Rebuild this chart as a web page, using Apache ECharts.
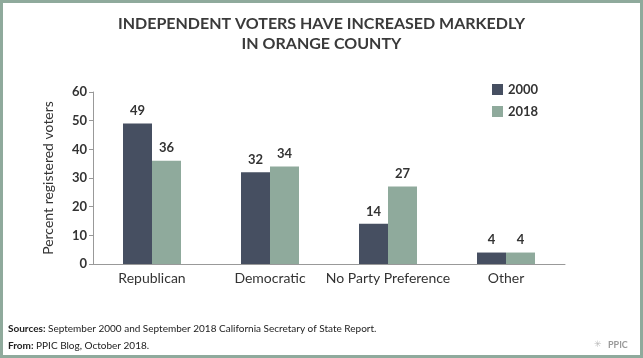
<!DOCTYPE html>
<html><head><meta charset="utf-8">
<script src="https://cdn.jsdelivr.net/npm/echarts@6/dist/echarts.min.js"></script>
<style>html,body{margin:0;padding:0;background:#fff}#c{width:643px;height:358px}</style>
</head><body><div id="c"></div>
<script>
const categories = ['Republican', 'Democratic', 'No Party Preference', 'Other'];
const values2000 = [49, 32, 14, 4];
const values2018 = [36, 34, 27, 4];
const yTicks = [0, 10, 20, 30, 40, 50, 60];

const chart = echarts.init(document.getElementById('c'));
const font = 'Lato, "Open Sans", sans-serif';
chart.setOption({
  animation: false,
  textStyle: { fontFamily: font },
  title: {
    text: 'INDEPENDENT VOTERS HAVE INCREASED MARKEDLY\nIN ORANGE COUNTY',
    left: 'center', top: 9,
    textStyle: { fontSize: 16, fontWeight: 'bold', color: '#3a3a3a', lineHeight: 20, fontFamily: font }
  },
  legend: {
    orient: 'vertical', left: 487, top: 78, itemWidth: 11, itemHeight: 11, itemGap: 9,
    icon: 'rect',
    textStyle: { fontSize: 13, fontWeight: 'bold', color: '#333', fontFamily: font },
    data: ['2000', '2018']
  },
  grid: { left: 93, right: 78, top: 92, bottom: 94 },
  xAxis: {
    type: 'category', data: categories,
    axisLine: { lineStyle: { color: '#999', width: 1 } },
    axisTick: { show: false },
    axisLabel: { color: '#333', fontSize: 14, margin: 7, interval: 0, fontFamily: font }
  },
  yAxis: {
    type: 'value', min: 0, max: 60, interval: 10,
    name: 'Percent registered voters', nameLocation: 'middle', nameGap: 38,
    nameTextStyle: { color: '#333', fontSize: 14, fontFamily: font },
    axisLine: { show: true, lineStyle: { color: '#999' } },
    axisTick: { show: true, length: 4, lineStyle: { color: '#999' } },
    splitLine: { show: false },
    axisLabel: { color: '#333', fontSize: 13, margin: 6, fontWeight: 'bold', fontFamily: font,
      formatter: v => yTicks.includes(v) ? String(v) : '' }
  },
  series: [
    { name: '2000', type: 'bar', data: values2000, barWidth: 29, barGap: '0%',
      itemStyle: { color: '#464f61' },
      label: { show: true, position: 'top', distance: 6, color: '#333', fontSize: 13, fontWeight: 'bold', fontFamily: font } },
    { name: '2018', type: 'bar', data: values2018, barWidth: 29,
      itemStyle: { color: '#8faa9c' },
      label: { show: true, position: 'top', distance: 6, color: '#333', fontSize: 13, fontWeight: 'bold', fontFamily: font } }
  ],
  graphic: [
    { type: 'rect', shape: { x: 1.5, y: 1.5, width: 640, height: 355 },
      style: { fill: 'none', stroke: '#8faa9c', lineWidth: 3 }, silent: true },
    { type: 'text', left: 8, top: 324,
      style: { text: '{b|Sources:} September 2000 and September 2018 California Secretary of State Report.',
        rich: { b: { fontWeight: 'bold', fontSize: 10, fill: '#222', fontFamily: font } },
        fontSize: 10, fill: '#222', fontFamily: font } },
    { type: 'text', left: 8, top: 341,
      style: { text: '{b|From:} PPIC Blog, October 2018.',
        rich: { b: { fontWeight: 'bold', fontSize: 10, fill: '#222', fontFamily: font } },
        fontSize: 10, fill: '#222', fontFamily: font } },
    { type: 'text', left: 608, top: 341,
      style: { text: 'PPIC', fontSize: 9, fontWeight: 'bold', fill: '#999', fontFamily: font } },
    { type: 'text', left: 594, top: 340,
      style: { text: '✳', fontSize: 9, fill: '#bbb', fontFamily: font } }
  ]
});
</script></body></html>
